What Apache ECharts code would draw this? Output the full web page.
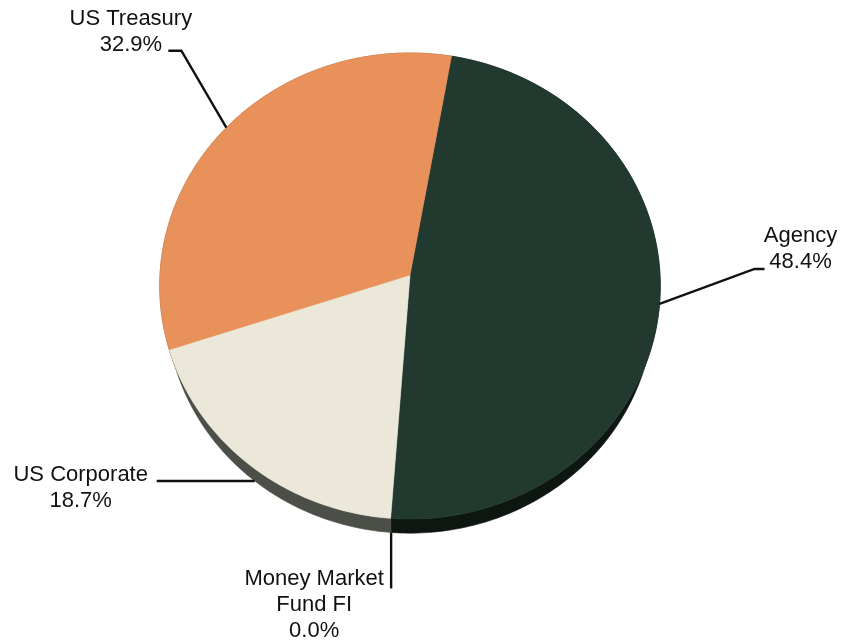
<!DOCTYPE html>
<html>
<head>
<meta charset="utf-8">
<script src="https://cdn.jsdelivr.net/npm/echarts@6/dist/echarts.min.js"></script>
<style>
  html, body { margin: 0; padding: 0; background: #ffffff; }
  #chart { width: 844px; height: 644px; }
</style>
</head>
<body>
<div id="chart"></div>
<script>
// Holdings by sector, percent of portfolio, laid out clockwise from the back of the pie
const categories = ['Agency', 'Money Market\nFund FI', 'US Corporate', 'US Treasury'];
const shares = [48.4, 0.0, 18.7, 32.9];

const topColors = ['#22392f', '#4a6e8c', '#ebe8d9', '#e8915a'];
const sideColors = ['#0d1611', '#2c4256', '#4c4f47', '#8f5530'];

// Leader layout for each label: rim the line starts on (0 = top face, 1 = bottom edge),
// elbow offset from that point, horizontal run after the elbow, text-block centre offset from the line end
const labelLayout = [
  { rim: 0, elbow: [95, -35], run: 10, text: [36, -20] },
  { rim: 1, elbow: [0, 56], run: 0, text: [-77, 16] },
  { rim: 1, elbow: [-43, 0], run: -55, text: [-76, 6.5] },
  { rim: 0, elbow: [-45, -77], run: -13, text: [-37.5, -19] }
];

// Tilted, slightly perspective view of a thick disc
const view = {
  cx: 410, cy: 275, scale: 250,
  sinE: 0.93, cosE: 0.368, dist: 7.8, thick: 0.22,
  startDeg: 10
};

const total = shares.reduce((a, b) => a + b, 0);

function project(deg, level) {
  const t = deg * Math.PI / 180;
  const X = Math.sin(t);
  const Z = -Math.cos(t);
  const h = level * view.thick;
  const d = view.dist - Z * view.cosE + h * view.sinE;
  const k = view.scale * view.dist / d;
  return [view.cx + X * k, view.cy + (Z * view.sinE + h * view.cosE) * k];
}

function sliceSpan(i, value) {
  let before = 0;
  for (let j = 0; j < i; j++) before += shares[j];
  const a = view.startDeg + 360 * before / total;
  return [a, a + 360 * value / total];
}

function rim(a, b, level) {
  const pts = [];
  const n = Math.max(1, Math.ceil(Math.abs(b - a)));
  for (let s = 0; s <= n; s++) pts.push(project(a + (b - a) * s / n, level));
  return pts;
}

function renderSide(params, api) {
  const i = params.dataIndex;
  const v = api.value(0);
  if (v <= 0) return;
  const [a, b] = sliceSpan(i, v);
  const pts = rim(a, b, 0).concat(rim(a, b, 1).reverse());
  return {
    type: 'polygon',
    shape: { points: pts },
    style: { fill: sideColors[i], stroke: sideColors[i], lineWidth: 0.6 }
  };
}

function renderTop(params, api) {
  const i = params.dataIndex;
  const v = api.value(0);
  if (v <= 0) return;
  const [a, b] = sliceSpan(i, v);
  const pts = [[view.cx, view.cy]].concat(rim(a, b, 0));
  return {
    type: 'polygon',
    shape: { points: pts },
    style: { fill: topColors[i], stroke: topColors[i], lineWidth: 0.6 }
  };
}

function renderLabel(params, api) {
  const i = params.dataIndex;
  const v = api.value(0);
  const [a, b] = sliceSpan(i, v);
  const L = labelLayout[i];
  const p0 = project((a + b) / 2, L.rim);
  const p1 = [p0[0] + L.elbow[0], p0[1] + L.elbow[1]];
  const p2 = [p1[0] + L.run, p1[1]];
  return {
    type: 'group',
    children: [
      {
        type: 'polyline',
        shape: { points: [p0, p1, p2] },
        style: { stroke: '#111111', lineWidth: 2.4, fill: null }
      },
      {
        type: 'text',
        style: {
          x: p2[0] + L.text[0],
          y: p2[1] + L.text[1],
          text: categories[i] + '\n' + v.toFixed(1) + '%',
          align: 'center',
          verticalAlign: 'middle',
          fontSize: 22,
          fontFamily: '"Liberation Sans", Arial, sans-serif',
          lineHeight: 26,
          fill: '#111111'
        }
      }
    ]
  };
}

const seriesData = shares.map((v, i) => ({ name: categories[i], value: [v, i] }));

const chart = echarts.init(document.getElementById('chart'), null, { renderer: 'canvas' });
chart.setOption({
  animation: false,
  backgroundColor: '#ffffff',
  series: [
    { type: 'custom', coordinateSystem: 'none', silent: true, z: 1, data: seriesData, renderItem: renderSide },
    { type: 'custom', coordinateSystem: 'none', silent: true, z: 2, data: seriesData, renderItem: renderTop },
    { type: 'custom', coordinateSystem: 'none', silent: true, z: 3, data: seriesData, renderItem: renderLabel }
  ]
});
</script>
</body>
</html>
